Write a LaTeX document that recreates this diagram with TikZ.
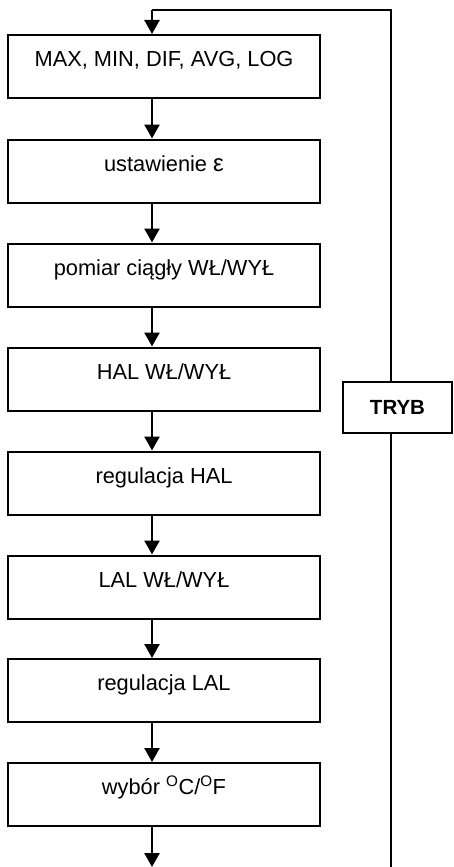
\documentclass[tikz,border=0pt]{standalone}
\usepackage{fontspec}
\setmainfont{Liberation Sans}
\usetikzlibrary{arrows.meta}
\begin{document}
\begin{tikzpicture}[x=1pt,y=-1pt,
  stepbox/.style={draw,line width=2pt,minimum width=312pt,inner sep=0pt,
    text height=31.5pt,text depth=31.5pt,font=\fontsize{21.8}{26}\selectfont},
  modebox/.style={draw,line width=2pt,minimum width=109pt,minimum height=51pt,inner sep=0pt,
    font=\fontsize{20.5}{24}\selectfont\bfseries},
  arr/.style={line width=2.5pt,-{Triangle[length=14pt,width=15pt]}},
  loop/.style={line width=2pt}]
\useasboundingbox (0,0) rectangle (453,867);
\coordinate (ax) at (152,0);
\coordinate (rx) at (391,0);
\node[stepbox] (b1) at (164,66.5) {MAX, MIN, DIF, AVG, LOG};
\node[stepbox] (b2) at (164,171) {ustawienie {\fontsize{24}{26}\selectfont ε}};
\node[stepbox] (b3) at (164,275) {pomiar ciągły WŁ/WYŁ};
\node[stepbox] (b4) at (164,379) {HAL WŁ/WYŁ};
\node[stepbox] (b5) at (164,483) {regulacja HAL};
\node[stepbox] (b6) at (164,587) {LAL WŁ/WYŁ};
\node[stepbox] (b7) at (164,690.5) {regulacja LAL};
\node[stepbox] (b8) at (164,794.5) {wybór \textsuperscript{O}C/\textsuperscript{O}F};
\node[modebox] (tryb) at (397.5,407.5) {TRYB};
\coordinate (top) at (391,10);
\coordinate (bend) at (391,867);
\coordinate (out) at (152,867);
\draw[arr] (b1.south -| ax) -- (b2.north -| ax);
\draw[arr] (b2.south -| ax) -- (b3.north -| ax);
\draw[arr] (b3.south -| ax) -- (b4.north -| ax);
\draw[arr] (b4.south -| ax) -- (b5.north -| ax);
\draw[arr] (b5.south -| ax) -- (b6.north -| ax);
\draw[arr] (b6.south -| ax) -- (b7.north -| ax);
\draw[arr] (b7.south -| ax) -- (b8.north -| ax);
\draw[arr] (b8.south -| ax) -- (out);
\draw[loop] (bend) -- (tryb.south -| rx);
\draw[loop] (tryb.north -| rx) -- (top) -- (top -| ax);
\draw[arr] (top -| ax) -- (b1.north -| ax);
\end{tikzpicture}
\end{document}
